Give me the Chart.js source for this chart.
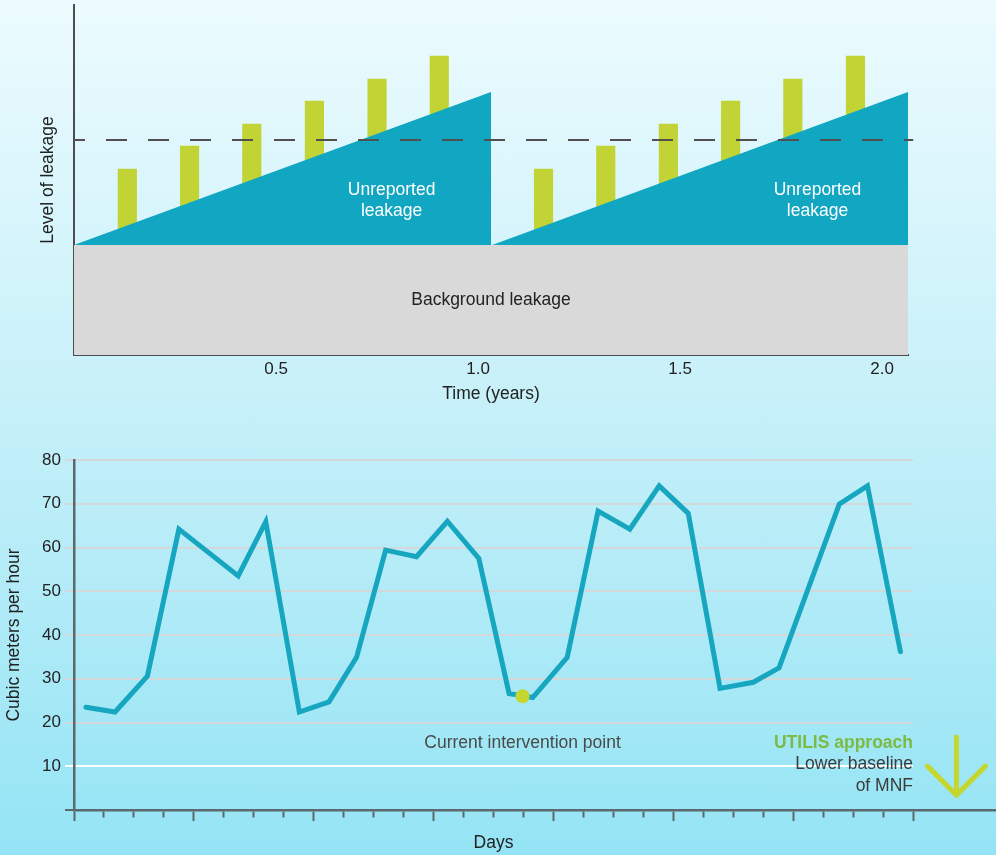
<!DOCTYPE html>
<html>
<head>
<meta charset="utf-8">
<title>Leakage and minimum night flow</title>
<script src="https://cdn.jsdelivr.net/npm/chart.js@4.4.1/dist/chart.umd.min.js"></script>
<style>
  html, body { margin: 0; padding: 0; }
  body {
    width: 996px; height: 855px; overflow: hidden; position: relative;
    background: linear-gradient(to bottom, #ecfbfe 0%, #c6f0f9 48%, #94e4f5 100%);
  }
  canvas { position: absolute; left: 0; }
  #leakChart { top: 0; }
  #flowChart { top: 420px; }
</style>
</head>
<body>
<canvas id="leakChart" width="996" height="420"></canvas>
<canvas id="flowChart" width="996" height="435"></canvas>
<script>
// ---- Leakage level over two years (relative level units) ----
const yearTicks = [0.5, 1.0, 1.5, 2.0];
const burstYears = [0.132, 0.286, 0.440, 0.595, 0.750, 0.904, 1.162, 1.316, 1.471, 1.625, 1.779, 1.934];
const burstLevels = [186, 209, 231, 254, 276, 299, 186, 209, 231, 254, 276, 299];
const backgroundLevel = 110;
const alertLevel = 215;
const cycleStarts = [0, 1.035];
const cycleEnds = [1.032, 2.064];
const cyclePeaks = [263, 263];

// ---- Minimum night flow over four weeks ----
const flowTicks = [0, 10, 20, 30, 40, 50, 60, 70, 80];
const mnfDays = [0.40, 1.37, 2.45, 3.50, 5.48, 6.40, 7.52, 8.51, 9.43, 10.40, 11.43, 12.46, 13.51,
                 14.52, 15.31, 16.46, 17.49, 18.55, 19.53, 20.50, 21.56, 22.67, 23.53, 25.54, 26.48, 27.58];
const mnfValues = [23.5, 22.4, 30.6, 64.2, 53.5, 65.9, 22.4, 24.7, 34.9, 59.4, 57.9, 66.0, 57.5,
                   26.6, 25.7, 34.9, 68.3, 64.2, 74.1, 67.8, 27.8, 29.2, 32.5, 69.9, 74.1, 36.2];
const interventionDay = 14.97;
const interventionValue = 26.0;

const FONT = "'Liberation Sans', Arial, Helvetica, sans-serif";
Chart.defaults.font.family = FONT;
Chart.defaults.color = '#222';

const yearMax = 2.064;
const alertLineEnd = 2.077;
const dayMax = 28;
const axisColor = '#5b686d';

// text placed inside the leakage chart, in data units
const leakNotes = {
  id: 'leakNotes',
  afterDatasetsDraw(chart) {
    const { ctx, scales: { x, y } } = chart;
    ctx.save();
    ctx.textAlign = 'center';
    ctx.textBaseline = 'middle';
    ctx.font = '17.5px ' + FONT;
    ctx.fillStyle = '#ffffff';
    [0.786, 1.840].forEach(yr => {
      ctx.fillText('Unreported', x.getPixelForValue(yr), y.getPixelForValue(165));
      ctx.fillText('leakage', x.getPixelForValue(yr), y.getPixelForValue(144));
    });
    ctx.fillStyle = '#222';
    ctx.fillText('Background leakage', x.getPixelForValue(1.032), y.getPixelForValue(55));
    ctx.restore();
  }
};

new Chart(document.getElementById('leakChart'), {
  type: 'line',
  data: {
    datasets: [
      {
        label: 'Alert level',
        data: [{ x: 0, y: alertLevel }, { x: alertLineEnd, y: alertLevel }],
        borderColor: '#505050', borderWidth: 2, borderDash: [21, 21], borderDashOffset: 10,
        pointRadius: 0, fill: false, clip: false, order: 1
      },
      {
        label: 'Background leakage',
        data: [{ x: 0, y: backgroundLevel }, { x: yearMax, y: backgroundLevel }],
        borderColor: 'transparent', borderWidth: 0, backgroundColor: '#d9d9d9',
        pointRadius: 0, fill: 'origin', order: 2
      },
      ...cycleStarts.map((start, i) => ({
        label: 'Unreported leakage',
        data: [{ x: start, y: backgroundLevel }, { x: cycleEnds[i], y: cyclePeaks[i] }, { x: cycleEnds[i], y: backgroundLevel }],
        borderColor: 'transparent', borderWidth: 0, backgroundColor: '#11a6c1',
        pointRadius: 0, fill: 'origin', order: 3
      })),
      {
        type: 'bar',
        label: 'Reported bursts',
        data: burstYears.map((x, i) => ({ x, y: [backgroundLevel, burstLevels[i]] })),
        backgroundColor: '#c1d335', barThickness: 18.5, order: 4
      }
    ]
  },
  options: {
    responsive: false, animation: false, events: [],
    layout: { padding: { top: 5, right: 88, left: 0, bottom: 0 } },
    plugins: { legend: { display: false }, tooltip: { enabled: false } },
    scales: {
      x: {
        type: 'linear', min: 0, max: yearMax, offset: false,
        afterBuildTicks: s => { s.ticks = yearTicks.map(value => ({ value })); },
        afterFit: s => { s.height = 65; },
        grid: { display: false, drawTicks: false, offset: false },
        border: { display: true, color: '#4d4d4d', width: 2 },
        ticks: { padding: 4, color: '#222', font: { size: 17 }, maxRotation: 0, autoSkip: false,
                 callback: v => Number(v).toFixed(1) },
        title: { display: true, text: 'Time (years)', color: '#222', font: { size: 17.5 },
                 padding: { top: 0, bottom: 15.5 } }
      },
      y: {
        type: 'linear', min: 0, max: 350,
        afterFit: s => { s.width = 74; },
        grid: { display: false, drawTicks: false },
        border: { display: true, color: '#4d4d4d', width: 2 },
        ticks: { display: false },
        title: { display: true, text: 'Level of leakage', color: '#222', font: { size: 17.5 },
                 padding: { top: 37.8, bottom: 0 } }
      }
    }
  },
  plugins: [leakNotes]
});

// annotations, axis run-out and arrow for the flow chart
const flowNotes = {
  id: 'flowNotes',
  afterDatasetsDraw(chart) {
    const { ctx, scales: { x, y } } = chart;
    ctx.save();
    // x axis continues to the right edge of the canvas
    const bw = 2.5;
    const axisY = Math.round(x.top - bw / 2) + bw / 2;
    ctx.strokeStyle = axisColor;
    ctx.lineWidth = bw;
    ctx.beginPath();
    ctx.moveTo(x.right, axisY);
    ctx.lineTo(chart.width, axisY);
    ctx.stroke();

    ctx.textBaseline = 'middle';
    ctx.textAlign = 'center';
    ctx.font = '17.5px ' + FONT;
    ctx.fillStyle = '#4a4a4a';
    const noteY = y.getPixelForValue(15.3);
    ctx.fillText('Current intervention point', x.getPixelForValue(interventionDay), noteY);

    const rx = x.getPixelForValue(dayMax);
    ctx.textAlign = 'right';
    ctx.font = 'bold 17.5px ' + FONT;
    ctx.fillStyle = '#7cba43';
    ctx.fillText('UTILIS approach', rx, noteY);
    ctx.font = '17.5px ' + FONT;
    ctx.fillStyle = '#3c3c3c';
    ctx.fillText('Lower baseline', rx, noteY + 21.5);
    ctx.fillText('of MNF', rx, noteY + 43);

    // downward arrow
    const ax = x.getPixelForValue(29.45);
    const top = y.getPixelForValue(16.7);
    const tip = y.getPixelForValue(3.4);
    ctx.strokeStyle = '#c5d62f';
    ctx.lineWidth = 5;
    ctx.lineCap = 'round';
    ctx.lineJoin = 'round';
    ctx.beginPath();
    ctx.moveTo(ax, top);
    ctx.lineTo(ax, tip);
    ctx.moveTo(ax - 29, tip - 29);
    ctx.lineTo(ax, tip);
    ctx.lineTo(ax + 29, tip - 29);
    ctx.stroke();
    ctx.restore();
  }
};

new Chart(document.getElementById('flowChart'), {
  type: 'line',
  data: {
    datasets: [
      {
        label: 'Current intervention point',
        data: [{ x: interventionDay, y: interventionValue }],
        showLine: false, pointRadius: 7, pointBackgroundColor: '#c5d62f',
        pointBorderWidth: 0, pointBorderColor: 'transparent', order: 1
      },
      {
        label: 'Minimum night flow',
        data: mnfDays.map((x, i) => ({ x, y: mnfValues[i] })),
        borderColor: '#16a6bf', borderWidth: 5, borderCapStyle: 'round', borderJoinStyle: 'miter',
        pointRadius: 0, tension: 0, fill: false, order: 2
      }
    ]
  },
  options: {
    responsive: false, animation: false, events: [],
    layout: { padding: { top: 40, right: 83, left: 0, bottom: 0 } },
    plugins: { legend: { display: false }, tooltip: { enabled: false } },
    scales: {
      x: {
        type: 'linear', min: 0, max: dayMax, offset: false,
        afterBuildTicks: s => {
          const t = [];
          for (let d = 0; d <= dayMax; d++) t.push({ value: d });
          s.ticks = t;
        },
        afterFit: s => { s.height = 45; },
        grid: {
          drawOnChartArea: false, drawTicks: true, tickLength: 11, tickWidth: 2, tickColor: axisColor,
          tickBorderDash: c => (c.tick && c.tick.value % 4 === 0) ? [] : [6, 40],
          tickBorderDashOffset: 0
        },
        border: { display: true, color: axisColor, width: 2.5 },
        ticks: { display: false },
        title: { display: true, text: 'Days', color: '#222', font: { size: 17.5 },
                 padding: { top: 0, bottom: 1.5 } }
      },
      y: {
        type: 'linear', min: 0, max: 80,
        afterBuildTicks: s => { s.ticks = flowTicks.map(value => ({ value })); },
        afterFit: s => { s.width = 74; },
        grid: {
          color: c => c.tick.value === 0 ? axisColor : (c.tick.value === 10 ? '#ffffff' : '#d3d9db'),
          lineWidth: 2, tickLength: 9
        },
        border: { display: true, color: axisColor, width: 2.5 },
        ticks: { color: '#222', font: { size: 17 }, padding: 4,
                 callback: v => v === 0 ? '' : String(v) },
        title: { display: true, text: 'Cubic meters per hour', color: '#222', font: { size: 17.5 },
                 padding: { top: 4, bottom: 0 } }
      }
    }
  },
  plugins: [flowNotes]
});
</script>
</body>
</html>
